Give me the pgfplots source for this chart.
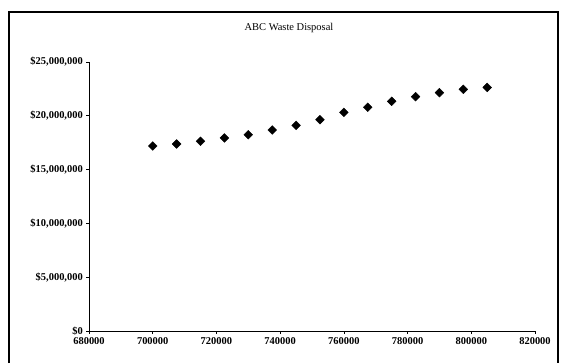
\documentclass[border=0pt]{standalone}
\usepackage{pgfplots}
\pgfplotsset{compat=1.18}
\usepackage{fontspec}
\setmainfont{Liberation Serif}
\begin{document}
\begin{tikzpicture}[x=1bp,y=1bp]
\path[use as bounding box] (0,0) rectangle (562,363);
\draw[line width=1.2bp] (9,0) -- (9,351) -- (558,351) -- (558,0);
\node[font=\fontsize{10.5}{11}\selectfont] at (289,335) {ABC Waste Disposal};
\begin{axis}[
  at={(89bp,32bp)}, anchor=south west,
  scale only axis, width=446bp, height=269bp,
  xmin=680000, xmax=820000, ymin=0, ymax=25000000,
  axis x line=bottom, axis y line=left,
  axis line style={-, line width=0.8bp},
  xtick={680000,700000,720000,740000,760000,780000,800000,820000},
  xticklabels={680000,700000,720000,740000,760000,780000,800000,820000},
  ytick={0,5000000,10000000,15000000,20000000,25000000},
  yticklabels={\$0,\$5{,}000{,}000,\$10{,}000{,}000,\$15{,}000{,}000,\$20{,}000{,}000,\$25{,}000{,}000},
  tick align=outside, major tick length=3bp,
  tick style={black, line width=0.6bp},
  ticklabel style={font=\fontsize{10.5}{11}\selectfont\bfseries, inner sep=1bp},
  yticklabel style={xshift=-2bp},
  xticklabel style={yshift=-2bp},
  scaled ticks=false,
  xtick pos=bottom, ytick pos=left,
  clip=false,
]
\addplot[only marks, mark=square*, mark options={rotate=45}, mark size=3.1bp, black] coordinates {
(700000,17190000) (707500,17380000) (715000,17630000) (722500,17940000)
(730000,18240000) (737500,18680000) (745000,19110000) (752500,19640000)
(760000,20320000) (767500,20790000) (775000,21350000) (782500,21780000)
(790000,22150000) (797500,22460000) (805000,22640000)
};
\end{axis}
\end{tikzpicture}
\end{document}
